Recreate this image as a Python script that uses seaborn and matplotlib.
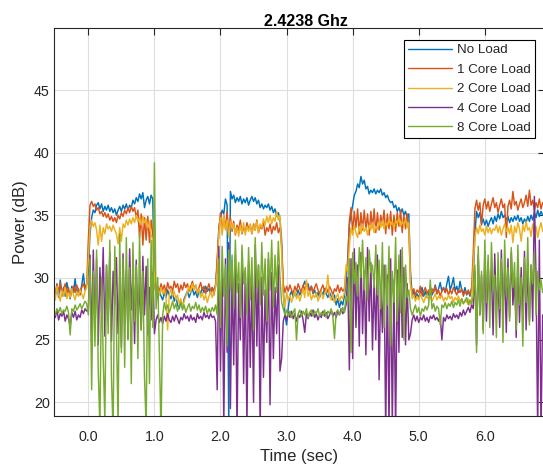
import numpy as np
import pandas as pd
import matplotlib
matplotlib.use("Agg")
import matplotlib.pyplot as plt
from matplotlib.lines import Line2D
from matplotlib.ticker import StrMethodFormatter
import seaborn as sns

# ---- measurements (dB), sampled every 25 ms starting at t = -0.525 s ----
series_names = ["No Load", "1 Core Load", "2 Core Load", "4 Core Load", "8 Core Load"]
series_colors = ["#0072BD", "#D95319", "#EDB120", "#7E2F8E", "#77AC30"]

no_load = [
    29.0, 28.6, 29.5, 28.4, 29.8, 28.7, 29.2, 28.5, 29.6, 28.9, 28.3, 29.3, 28.8, 29.9, 28.6, 29.1, 28.7, 29.4, 30.3, 29.0, 29.5,
    30.5, 33.5, 34.8, 35.4, 35.2, 35.8, 36.0, 35.5, 35.9, 35.3, 35.7, 35.4, 35.8, 35.3, 35.6, 35.2, 35.5, 35.0, 35.4, 35.7,
    35.3, 35.8, 35.5, 35.9, 35.4, 35.8, 35.6, 36.2, 35.9, 36.4, 36.1, 36.7, 36.3, 36.8, 35.6, 36.2, 36.5, 35.9, 36.6, 36.3,
    29.6, 28.7, 28.3, 28.9, 28.5, 28.2, 28.8, 28.4, 29.0, 28.6, 28.3, 28.8, 28.1, 28.5, 27.8, 27.5, 28.0, 27.6, 28.3, 28.6,
    28.9, 28.4, 28.8, 29.1, 28.6, 28.9, 28.4, 29.0, 28.7, 29.2, 28.8, 29.3, 28.9, 29.1, 28.7, 29.2, 28.9, 29.4,
    31.0, 34.0, 34.8, 35.4, 35.1, 36.3, 35.8, 18.0, 36.9, 36.3, 36.6, 36.0, 36.4, 36.1, 36.5, 35.9, 36.3, 36.0, 36.4, 35.8,
    36.2, 36.5, 36.1, 36.4, 35.9, 36.2, 35.6, 35.9, 35.5, 35.8, 35.6, 35.9, 35.4, 35.7, 35.2, 35.5, 34.9, 35.2, 34.7, 33.0,
    29.0, 27.0, 26.2, 27.5, 28.6, 28.9, 28.4, 28.8, 28.5, 29.0, 28.6, 28.9, 29.3, 29.7, 29.2, 29.5, 28.9, 29.3, 28.7, 29.0,
    28.5, 28.8, 28.4, 28.9, 28.6, 29.1, 28.7, 28.4, 28.8, 28.5, 28.2, 28.6, 27.8, 28.3, 27.6, 28.1, 27.8, 28.5, 29.5,
    31.5, 34.2, 35.0, 35.8, 36.6, 36.9, 37.5, 37.2, 38.1, 37.5, 37.8, 37.1, 37.3, 36.7, 37.0, 36.8, 37.1, 36.7, 37.0, 36.8,
    37.1, 36.6, 36.8, 36.4, 36.6, 36.2, 36.0, 36.1, 35.6, 35.8, 35.3, 35.6, 35.2, 35.5, 35.0, 35.3, 34.8, 35.1,
    30.5, 28.6, 28.9, 28.3, 28.7, 28.4, 28.8, 29.2, 28.5, 28.9, 28.4, 28.7, 29.3, 28.6, 28.9, 29.4, 28.7, 29.1, 29.6, 28.9,
    29.2, 28.8, 29.5, 30.1, 29.0, 29.4, 30.0, 28.9, 29.3, 28.8, 29.7, 29.0, 28.7, 29.2, 28.6, 28.9, 28.5, 29.1,
    30.0, 33.5, 35.3, 34.8, 35.2, 34.3, 34.7, 34.2, 34.6, 34.1, 34.5, 34.8, 34.3, 34.9, 34.5, 35.1, 34.7, 35.3, 34.8, 35.0,
    34.6, 34.9, 34.4, 34.8, 34.5, 34.9, 34.6, 35.0, 34.5, 34.8, 34.3, 34.7, 34.4, 34.9, 34.5, 35.0, 34.6, 35.2, 34.8, 35.4,
    34.9, 35.3, 35.0,
]

core1 = [
    29.2, 28.6, 29.4, 28.9, 29.6, 28.5, 29.1, 29.5, 28.7, 29.2, 28.4, 29.0, 29.3, 28.8, 29.4, 29.0, 28.6, 29.2, 29.5, 29.1, 29.4,
    33.0, 35.8, 36.1, 35.7, 35.9, 35.4, 35.6, 35.1, 35.3, 34.9, 35.2, 34.8, 35.1, 34.6, 34.9, 34.5, 34.8, 34.4, 35.0, 34.7,
    35.2, 34.9, 35.4, 35.1, 35.6, 35.2, 35.7, 35.3, 35.6, 34.8, 35.4, 33.2, 35.1, 32.6, 34.8, 33.0, 34.9, 32.8, 34.6, 33.5,
    29.8, 28.7, 29.3, 28.9, 29.5, 29.0, 29.4, 28.8, 29.6, 29.1, 29.3, 28.9, 29.7, 29.2, 29.5, 28.8, 29.4, 29.0, 29.6, 29.2,
    29.5, 28.9, 29.3, 29.7, 29.1, 29.4, 28.8, 29.2, 29.6, 29.0, 29.3, 28.7, 29.1, 29.5, 28.9, 29.2, 28.6, 29.3,
    31.5, 33.8, 35.2, 33.6, 35.0, 33.9, 35.3, 33.5, 34.8, 33.7, 34.5, 33.4, 34.2, 33.8, 34.6, 33.5, 34.0, 33.6, 34.4, 33.9,
    34.2, 33.5, 34.3, 33.8, 34.6, 33.6, 34.1, 33.9, 34.5, 33.4, 34.0, 33.7, 34.3, 33.5, 34.1, 33.8, 34.4, 33.6, 34.0, 32.5,
    29.5, 28.8, 29.3, 28.9, 29.4, 29.0, 28.7, 29.3, 28.9, 29.5, 29.1, 28.8, 29.4, 29.0, 29.6, 29.2, 28.9, 29.3, 28.8, 29.2,
    29.5, 29.0, 28.7, 29.1, 29.4, 28.9, 29.2, 28.8, 29.3, 29.0, 28.6, 29.1, 28.9, 29.4, 28.8, 29.2, 28.9, 29.1, 30.5,
    31.0, 34.5, 35.6, 33.6, 35.3, 34.0, 35.5, 33.5, 35.2, 33.8, 35.4, 33.9, 35.1, 33.4, 35.3, 34.0, 35.5, 33.6, 35.2, 33.8,
    35.0, 34.2, 35.4, 33.5, 35.1, 33.9, 35.3, 33.4, 35.0, 33.7, 35.2, 34.1, 35.4, 33.6, 35.0, 33.9, 35.1, 33.8,
    29.6, 28.7, 29.1, 28.6, 29.0, 28.8, 29.3, 28.5, 28.9, 29.2, 28.7, 29.0, 28.6, 29.1, 28.8, 29.3, 28.7, 29.0, 28.5, 28.9,
    29.2, 28.8, 29.1, 28.6, 29.0, 28.7, 29.2, 28.9, 28.6, 29.0, 28.8, 29.1, 28.5, 28.9, 28.7, 29.0, 28.6, 29.2,
    32.0, 35.5, 36.2, 35.4, 36.0, 34.2, 35.8, 36.3, 35.5, 36.1, 35.3, 35.9, 36.4, 35.6, 36.0, 35.2, 35.8, 36.3, 35.6, 35.9,
    33.2, 35.7, 36.2, 35.5, 36.9, 35.8, 36.1, 35.4, 35.9, 36.3, 35.6, 36.0, 36.6, 35.7, 37.0, 35.8, 36.2, 35.4, 36.0, 35.6,
    36.3, 35.5, 36.0,
]

core2 = [
    28.9, 28.2, 29.3, 28.6, 28.1, 29.0, 28.5, 29.2, 28.3, 28.8, 28.4, 29.1, 28.6, 28.2, 28.9, 28.5, 29.0, 28.7, 28.3, 28.9, 29.2,
    31.5, 34.0, 34.6, 34.1, 34.4, 33.8, 32.6, 34.2, 32.9, 34.0, 33.5, 34.3, 33.9, 34.1, 33.7, 34.2, 33.8, 33.5, 32.7, 34.0,
    32.9, 34.3, 34.0, 34.6, 34.2, 34.7, 34.3, 34.8, 34.4, 35.0, 34.5, 34.8, 34.2, 34.9, 34.4, 34.7, 34.0, 34.5, 33.4, 33.0,
    30.0, 28.5, 29.1, 28.6, 29.2, 28.7, 29.0, 28.4, 25.8, 28.6, 29.1, 28.5, 28.9, 28.2, 28.6, 27.9, 28.3, 27.7, 28.1, 28.5,
    28.9, 29.3, 28.8, 29.5, 29.0, 29.4, 28.7, 29.1, 28.4, 28.8, 28.2, 28.6, 28.0, 28.5, 28.9, 28.4, 28.8, 29.2,
    30.5, 33.5, 34.8, 33.4, 35.0, 33.8, 34.6, 33.2, 34.5, 33.9, 34.3, 33.5, 34.0, 33.3, 34.2, 33.6, 34.4, 33.4, 34.1, 33.7,
    34.3, 33.5, 34.2, 33.8, 34.5, 33.6, 34.3, 34.0, 34.7, 34.2, 34.9, 34.4, 35.0, 34.3, 34.8, 34.5, 35.3, 34.6, 35.0, 32.0,
    28.5, 27.6, 28.8, 28.2, 28.6, 28.0, 28.5, 28.9, 28.3, 28.7, 28.1, 28.6, 29.1, 28.4, 29.8, 28.5, 28.9, 28.2, 28.6, 28.4,
    28.8, 28.1, 28.5, 28.9, 28.3, 28.7, 29.0, 30.2, 28.5, 28.2, 28.6, 28.0, 28.4, 28.7, 28.1, 28.5, 28.3, 28.8, 31.0,
    30.5, 32.5, 34.0, 33.4, 34.2, 33.6, 33.2, 34.1, 33.5, 34.3, 33.7, 34.0, 33.4, 34.2, 33.8, 34.4, 33.6, 34.1, 33.9, 34.5,
    34.0, 34.6, 33.9, 34.4, 34.1, 34.7, 34.2, 34.5, 33.9, 34.6, 34.3, 34.8, 34.1, 34.5, 34.2, 34.7, 34.0, 34.4,
    29.5, 28.3, 28.6, 28.1, 28.5, 28.2, 28.7, 28.3, 28.0, 28.4, 28.6, 28.2, 28.5, 28.1, 28.4, 28.7, 28.2, 28.5, 28.3, 28.6,
    28.1, 28.4, 28.2, 28.6, 28.3, 28.5, 28.0, 28.4, 28.2, 28.5, 28.1, 28.3, 27.9, 28.2, 28.0, 28.3, 27.8, 28.1,
    31.0, 33.2, 34.0, 33.5, 34.2, 33.7, 33.9, 33.4, 34.1, 33.6, 34.0, 33.5, 33.9, 33.8, 34.2, 33.6, 34.1, 33.4, 33.9, 34.3,
    33.7, 34.0, 33.5, 34.2, 32.8, 34.1, 33.6, 34.4, 33.9, 32.9, 34.2, 33.7, 34.5, 33.8, 34.0, 33.3, 34.3, 33.6, 34.1, 33.2,
    33.9, 34.4, 33.7,
]

core4 = [
    27.2, 26.8, 27.4, 26.6, 27.1, 26.9, 27.3, 26.5, 27.0, 26.7, 26.1, 27.2, 26.8, 27.3, 26.6, 27.0, 26.8, 27.4, 27.1, 27.5, 27.3,
    27.5, 31.8, 24.8, 32.2, 26.0, 31.5, 24.6, 30.8, 27.2, 32.4, 25.3, 31.0, 26.5, 32.0, 24.9, 30.5, 27.8, 31.6, 25.5, 29.8,
    24.4, 31.9, 26.8, 30.6, 25.1, 32.3, 27.4, 30.2, 24.7, 31.4, 26.2, 29.5, 25.8, 31.7, 27.0, 30.9, 25.4, 29.2, 26.6, 30.4,
    25.5, 26.6, 27.0, 26.4, 26.8, 26.3, 26.9, 26.5, 27.1, 26.6, 26.4, 26.9, 26.5, 27.0, 26.7, 26.3, 26.8, 26.6, 27.1, 26.7,
    26.9, 26.5, 27.0, 26.6, 26.8, 26.4, 27.1, 26.7, 26.9, 26.6, 27.2, 26.8, 27.0, 26.7, 27.1, 26.8, 26.9, 26.5,
    21.0, 32.5, 22.5, 30.8, 18.0, 31.5, 24.0, 32.8, 19.5, 30.2, 23.0, 31.8, 17.5, 29.5, 25.0, 32.0, 21.5, 30.5, 18.0, 31.2,
    22.8, 29.8, 20.0, 32.6, 24.5, 31.0, 17.8, 30.0, 22.0, 29.0, 24.8, 31.5, 19.8, 30.4, 23.5, 29.2, 25.5, 31.0, 22.5, 23.5,
    26.5, 27.0, 26.6, 27.2, 26.8, 27.3, 26.7, 27.1, 26.5, 27.0, 26.8, 27.3, 26.6, 25.6, 27.1, 26.7, 27.2, 26.9, 27.4, 26.8,
    27.1, 26.6, 27.0, 26.8, 27.3, 26.9, 27.2, 26.7, 27.0, 27.4, 26.9, 27.2, 26.8, 27.3, 27.0, 27.5, 27.1, 27.3, 27.8,
    30.0, 22.6, 31.5, 23.5, 32.3, 26.0, 31.0, 24.5, 32.0, 25.5, 30.5, 23.8, 32.4, 26.5, 31.2, 24.2, 30.0, 25.0, 31.8, 21.8,
    29.5, 25.6, 31.0, 17.5, 30.2, 17.8, 31.5, 18.0, 29.8, 17.5, 30.6, 24.0, 32.2, 25.2, 30.8, 24.6, 29.5, 25.0,
    25.5, 26.6, 27.0, 26.5, 26.9, 26.4, 26.8, 26.6, 27.0, 26.5, 26.8, 26.4, 26.9, 26.7, 27.0, 26.6, 26.8, 26.5, 26.9, 25.0,
    26.8, 26.5, 27.0, 26.7, 26.9, 26.6, 27.1, 26.8, 27.0, 26.7, 27.2, 26.9, 27.4, 27.0, 27.3, 27.6, 27.2, 27.8,
    27.5, 30.5, 24.6, 31.8, 27.0, 30.2, 25.8, 32.0, 26.5, 31.2, 28.0, 30.6, 25.4, 31.9, 27.2, 29.8, 26.0, 32.2, 27.5, 30.4,
    25.6, 31.5, 26.8, 32.0, 27.8, 30.0, 25.2, 31.6, 26.4, 30.8, 27.0, 32.1, 25.8, 31.0, 26.5, 31.0, 26.5, 36.5, 30.0, 17.5,
    33.0, 17.5, 27.0,
]

core8 = [
    27.3, 27.0, 27.5, 27.2, 27.6, 27.1, 27.4, 27.3, 27.7, 27.2, 25.4, 27.5, 27.3, 27.8, 27.4, 27.6, 27.9, 27.5, 27.8, 28.1, 27.9,
    27.0, 31.5, 21.0, 30.5, 24.5, 32.2, 22.5, 18.0, 30.0, 23.5, 18.5, 31.0, 25.5, 33.0, 22.0, 17.5, 32.5, 26.0, 18.0, 33.5,
    24.0, 31.5, 22.8, 33.2, 25.0, 30.8, 21.5, 32.8, 26.5, 31.0, 23.5, 33.6, 25.8, 30.5, 22.0, 18.0, 31.5, 21.5, 33.0, 26.0,
    39.2, 27.5, 30.0, 24.0, 17.5, 27.0, 28.0, 27.4, 27.8, 27.2, 27.6, 28.1, 27.5, 27.9, 27.3, 27.7, 28.0, 27.4, 27.8, 27.2,
    27.6, 27.9, 27.3, 27.7, 27.5, 28.0, 27.4, 27.8, 27.2, 27.6, 27.3, 27.7, 27.1, 27.5, 27.2, 27.6, 27.3, 27.8,
    27.0, 31.5, 26.0, 32.5, 28.5, 31.0, 24.5, 32.2, 29.0, 31.8, 27.5, 33.0, 28.8, 31.2, 26.8, 32.6, 29.5, 30.8, 27.0, 32.4,
    28.2, 31.6, 25.8, 33.2, 29.2, 31.0, 27.8, 32.8, 28.6, 31.5, 26.5, 32.0, 29.0, 33.0, 27.6, 31.8, 28.8, 32.9, 30.0, 28.0,
    27.5, 27.0, 27.4, 26.9, 27.3, 26.8, 27.2, 27.5, 25.0, 27.1, 27.4, 26.9, 27.3, 27.0, 27.5, 26.8, 27.2, 27.4, 26.9, 27.3,
    27.1, 27.5, 26.9, 27.2, 27.0, 27.4, 26.8, 27.3, 27.1, 27.5, 26.9, 25.1, 27.2, 27.4, 27.0, 27.3, 27.6, 27.2, 28.5,
    28.0, 31.5, 24.0, 32.0, 29.5, 31.2, 28.5, 32.4, 30.0, 33.0, 29.0, 31.6, 28.2, 32.2, 30.4, 31.0, 29.2, 32.6, 28.6, 31.4,
    27.5, 32.8, 26.0, 31.0, 27.8, 32.5, 24.5, 30.5, 28.0, 33.2, 26.5, 31.8, 27.2, 32.4, 25.0, 31.0, 28.4, 29.0,
    27.5, 27.0, 27.4, 27.8, 27.2, 27.6, 26.9, 27.5, 27.3, 27.7, 27.4, 27.8, 29.8, 27.5, 27.9, 27.3, 27.7, 27.5, 26.2, 27.8,
    27.6, 28.0, 27.5, 27.9, 27.7, 28.1, 27.6, 28.0, 27.8, 28.2, 27.7, 28.3, 27.9, 28.1, 28.4, 27.8, 28.2, 27.9,
    28.5, 31.0, 24.0, 32.5, 27.0, 30.5, 25.5, 33.0, 28.0, 31.8, 26.0, 32.8, 29.0, 30.2, 25.2, 32.0, 27.5, 31.5, 24.8, 33.0,
    28.5, 30.8, 26.5, 32.4, 29.2, 31.2, 25.8, 32.6, 27.8, 30.0, 24.5, 31.6, 28.0, 33.2, 26.2, 31.0, 29.5, 32.0, 27.0, 30.5,
    29.0, 29.8, 28.8,
]

x_ticks = [0, 1, 2, 3, 4, 5, 6]
y_ticks = [20, 25, 30, 35, 40, 45]

all_series = [no_load, core1, core2, core4, core8]
n_samples = len(no_load)
assert all(len(s) == n_samples for s in all_series)
time_s = np.round(-0.525 + 0.025 * np.arange(n_samples), 3)

df = pd.DataFrame({
    "Time": np.tile(time_s, len(all_series)),
    "Power": np.concatenate(all_series),
    "Load": np.repeat(series_names, n_samples),
})

sns.set_theme(style="whitegrid")
plt.rcParams["font.family"] = ["Liberation Sans", "DejaVu Sans"]

ink = "#262626"
fig = plt.figure(figsize=(5.43, 4.66), dpi=100)
ax = fig.add_axes([0.0994, 0.1073, 0.9042, 0.8326])

sns.lineplot(data=df, x="Time", y="Power", hue="Load", hue_order=series_names,
             palette=series_colors, estimator=None, sort=False, linewidth=1.05,
             legend=False, ax=ax)

ax.set_xlim(-0.52, 6.91)
ax.set_ylim(18.9, 50)
ax.set_xticks(x_ticks)
ax.set_yticks(y_ticks)
ax.xaxis.set_major_formatter(StrMethodFormatter("{x:.1f}"))
ax.grid(True, color="#dedede", linewidth=0.8)
ax.set_axisbelow(True)
for sp in ax.spines.values():
    sp.set_visible(True)
    sp.set_color(ink)
    sp.set_linewidth(0.8)
ax.tick_params(direction="in", length=5, width=0.8, top=True, right=True,
               colors=ink, labelsize=10.3)
ax.tick_params(axis="x", pad=10.0)
ax.tick_params(axis="y", pad=3)

ax.set_xlabel("Time (sec)", fontsize=12, color=ink, labelpad=3.5)
ax.set_ylabel("Power (dB)", fontsize=12, color=ink, labelpad=4.0)
title = ax.set_title("2.4238 Ghz", fontsize=11.5, fontweight="bold", color="black", pad=1.5)
title.set_x(0.513)

handles = [Line2D([], [], color=c, lw=1.0) for c in series_colors]
leg = ax.legend(handles, series_names, loc="upper right", bbox_to_anchor=(0.9796, 0.969),
                borderaxespad=0, fontsize=9.6, frameon=True, fancybox=False,
                framealpha=1, edgecolor="black", handlelength=3.3,
                handletextpad=0.36, labelspacing=0.53, borderpad=0.3)
leg.get_frame().set_linewidth(0.8)
for txt in leg.get_texts():
    txt.set_color(ink)

fig.savefig("out.png", dpi=100)
